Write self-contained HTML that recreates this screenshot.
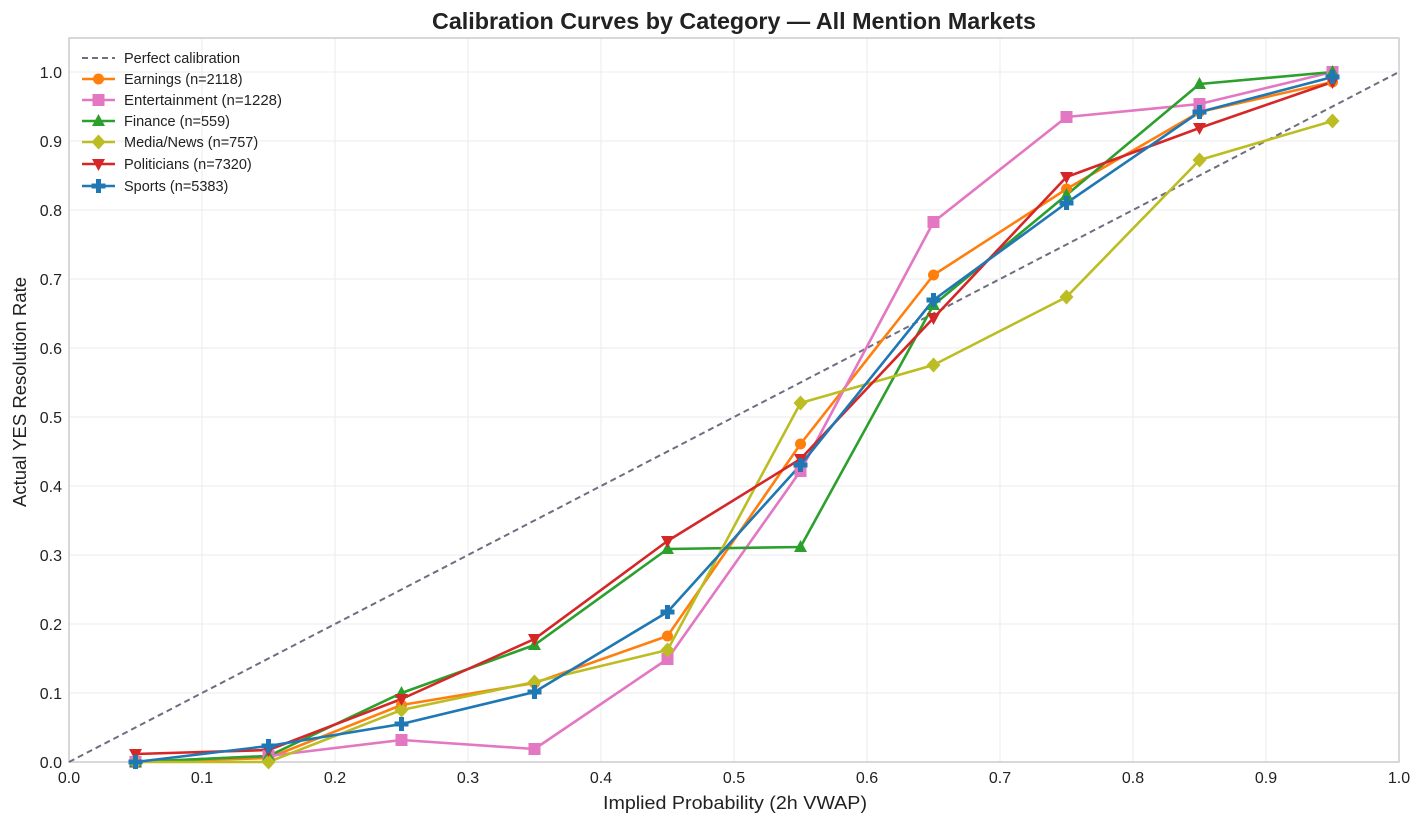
<!DOCTYPE html>
<html><head><meta charset="utf-8"><style>body{margin:0;background:#fff}svg{display:block;font-family:"Liberation Sans",sans-serif}</style></head><body>
<svg width="1424" height="824" viewBox="0 0 1424 824" xmlns="http://www.w3.org/2000/svg">
<defs>
<g id="mo"><circle r="5.5" fill="#ff7f0e"/></g>
<g id="ms"><rect x="-6" y="-6" width="12" height="12" fill="#e377c2"/></g>
<g id="mt"><path d="M0,-7 L6.5,5 L-6.5,5Z" fill="#2ca02c"/></g>
<g id="md"><path d="M0,-7.5 L7,0 L0,7.5 L-7,0Z" fill="#bcbd22"/></g>
<g id="mv"><path d="M0,7 L6.5,-5 L-6.5,-5Z" fill="#d62728"/></g>
<g id="mp"><path d="M-2.5,-7H2.5V-2.5H7V2.5H2.5V7H-2.5V2.5H-7V-2.5H-2.5Z" fill="#1f77b4"/></g>
</defs>
<g stroke="#ebebeb" stroke-width="1">
<line x1="202" y1="38" x2="202" y2="762"/><line x1="335" y1="38" x2="335" y2="762"/><line x1="468" y1="38" x2="468" y2="762"/><line x1="601" y1="38" x2="601" y2="762"/><line x1="734" y1="38" x2="734" y2="762"/><line x1="867" y1="38" x2="867" y2="762"/><line x1="1000" y1="38" x2="1000" y2="762"/><line x1="1133" y1="38" x2="1133" y2="762"/><line x1="1266" y1="38" x2="1266" y2="762"/>
<line x1="69" y1="693" x2="1399" y2="693"/><line x1="69" y1="624" x2="1399" y2="624"/><line x1="69" y1="555" x2="1399" y2="555"/><line x1="69" y1="486" x2="1399" y2="486"/><line x1="69" y1="417" x2="1399" y2="417"/><line x1="69" y1="348" x2="1399" y2="348"/><line x1="69" y1="279" x2="1399" y2="279"/><line x1="69" y1="210" x2="1399" y2="210"/><line x1="69" y1="141" x2="1399" y2="141"/><line x1="69" y1="72" x2="1399" y2="72"/>
</g>
<rect x="69" y="38" width="1330" height="724" fill="none" stroke="#cccccc" stroke-width="1.5"/>
<line x1="69" y1="762" x2="1399" y2="72" stroke="#6e6e80" stroke-width="2" stroke-dasharray="6,4"/>
<g fill="none" stroke-width="2.6" stroke-linejoin="round">
<polyline stroke="#ff7f0e" points="135.5,762 268.5,758 401.5,705 534.5,683 667.5,636 800.5,444 933.5,275 1066.5,189 1199.5,112 1332.5,82"/>
<polyline stroke="#e377c2" points="135.5,762 268.5,756 401.5,740 534.5,749 667.5,659 800.5,471 933.5,222 1066.5,117 1199.5,104 1332.5,72"/>
<polyline stroke="#2ca02c" points="135.5,762 268.5,756 401.5,693 534.5,645 667.5,549 800.5,547 933.5,305 1066.5,195 1199.5,84 1332.5,72"/>
<polyline stroke="#bcbd22" points="135.5,762 268.5,762 401.5,710 534.5,682 667.5,650 800.5,403 933.5,365 1066.5,297 1199.5,160 1332.5,121"/>
<polyline stroke="#d62728" points="135.5,754 268.5,750 401.5,699 534.5,639 667.5,541 800.5,459 933.5,318 1066.5,177 1199.5,128 1332.5,82"/>
<polyline stroke="#1f77b4" points="135.5,762 268.5,746 401.5,724 534.5,692 667.5,612 800.5,465 933.5,300 1066.5,203 1199.5,112 1332.5,77"/>
</g>
<g>
<use href="#mo" x="135.5" y="762"/><use href="#mo" x="268.5" y="758"/><use href="#mo" x="401.5" y="705"/><use href="#mo" x="534.5" y="683"/><use href="#mo" x="667.5" y="636"/><use href="#mo" x="800.5" y="444"/><use href="#mo" x="933.5" y="275"/><use href="#mo" x="1066.5" y="189"/><use href="#mo" x="1199.5" y="112"/><use href="#mo" x="1332.5" y="82"/>
<use href="#ms" x="135.5" y="762"/><use href="#ms" x="268.5" y="756"/><use href="#ms" x="401.5" y="740"/><use href="#ms" x="534.5" y="749"/><use href="#ms" x="667.5" y="659"/><use href="#ms" x="800.5" y="471"/><use href="#ms" x="933.5" y="222"/><use href="#ms" x="1066.5" y="117"/><use href="#ms" x="1199.5" y="104"/><use href="#ms" x="1332.5" y="72"/>
<use href="#mt" x="135.5" y="762"/><use href="#mt" x="268.5" y="756"/><use href="#mt" x="401.5" y="693"/><use href="#mt" x="534.5" y="645"/><use href="#mt" x="667.5" y="549"/><use href="#mt" x="800.5" y="547"/><use href="#mt" x="933.5" y="305"/><use href="#mt" x="1066.5" y="195"/><use href="#mt" x="1199.5" y="84"/><use href="#mt" x="1332.5" y="72"/>
<use href="#md" x="135.5" y="762"/><use href="#md" x="268.5" y="762"/><use href="#md" x="401.5" y="710"/><use href="#md" x="534.5" y="682"/><use href="#md" x="667.5" y="650"/><use href="#md" x="800.5" y="403"/><use href="#md" x="933.5" y="365"/><use href="#md" x="1066.5" y="297"/><use href="#md" x="1199.5" y="160"/><use href="#md" x="1332.5" y="121"/>
<use href="#mv" x="135.5" y="754"/><use href="#mv" x="268.5" y="750"/><use href="#mv" x="401.5" y="699"/><use href="#mv" x="534.5" y="639"/><use href="#mv" x="667.5" y="541"/><use href="#mv" x="800.5" y="459"/><use href="#mv" x="933.5" y="318"/><use href="#mv" x="1066.5" y="177"/><use href="#mv" x="1199.5" y="128"/><use href="#mv" x="1332.5" y="82"/>
<use href="#mp" x="135.5" y="762"/><use href="#mp" x="268.5" y="746"/><use href="#mp" x="401.5" y="724"/><use href="#mp" x="534.5" y="692"/><use href="#mp" x="667.5" y="612"/><use href="#mp" x="800.5" y="465"/><use href="#mp" x="933.5" y="300"/><use href="#mp" x="1066.5" y="203"/><use href="#mp" x="1199.5" y="112"/><use href="#mp" x="1332.5" y="77"/>
</g>
<g font-size="14.5" fill="#222">
<line x1="82" y1="58" x2="115" y2="58" stroke="#6e6e80" stroke-width="2" stroke-dasharray="6,4"/><text x="124" y="63">Perfect calibration</text>
<line x1="82" y1="79" x2="115" y2="79" stroke="#ff7f0e" stroke-width="2.6"/><use href="#mo" x="98.5" y="79"/><text x="124" y="84">Earnings (n=2118)</text>
<line x1="82" y1="100" x2="115" y2="100" stroke="#e377c2" stroke-width="2.6"/><use href="#ms" x="98.5" y="100"/><text x="124" y="105" textLength="158" lengthAdjust="spacingAndGlyphs">Entertainment (n=1228)</text>
<line x1="82" y1="121" x2="115" y2="121" stroke="#2ca02c" stroke-width="2.6"/><use href="#mt" x="98.5" y="121"/><text x="124" y="126">Finance (n=559)</text>
<line x1="82" y1="142" x2="115" y2="142" stroke="#bcbd22" stroke-width="2.6"/><use href="#md" x="98.5" y="142"/><text x="124" y="147">Media/News (n=757)</text>
<line x1="82" y1="164" x2="115" y2="164" stroke="#d62728" stroke-width="2.6"/><use href="#mv" x="98.5" y="164"/><text x="124" y="169">Politicians (n=7320)</text>
<line x1="82" y1="186" x2="115" y2="186" stroke="#1f77b4" stroke-width="2.6"/><use href="#mp" x="98.5" y="186"/><text x="124" y="191">Sports (n=5383)</text>
</g>
<g font-size="16" fill="#222" text-anchor="middle">
<text x="69" y="783">0.0</text><text x="202" y="783">0.1</text><text x="335" y="783">0.2</text><text x="468" y="783">0.3</text><text x="601" y="783">0.4</text><text x="734" y="783">0.5</text><text x="867" y="783">0.6</text><text x="1000" y="783">0.7</text><text x="1133" y="783">0.8</text><text x="1266" y="783">0.9</text><text x="1399" y="783">1.0</text>
</g>
<g font-size="16" fill="#222" text-anchor="end">
<text x="62" y="768">0.0</text><text x="62" y="699">0.1</text><text x="62" y="630">0.2</text><text x="62" y="561">0.3</text><text x="62" y="492">0.4</text><text x="62" y="423">0.5</text><text x="62" y="354">0.6</text><text x="62" y="285">0.7</text><text x="62" y="216">0.8</text><text x="62" y="147">0.9</text><text x="62" y="78">1.0</text>
</g>
<text x="603" y="809" font-size="18" fill="#222" textLength="264" lengthAdjust="spacingAndGlyphs">Implied Probability (2h VWAP)</text>
<text transform="translate(26,507) rotate(-90)" font-size="18" fill="#222" textLength="230" lengthAdjust="spacingAndGlyphs">Actual YES Resolution Rate</text>
<text x="432" y="29" font-size="23" font-weight="bold" fill="#222" textLength="604" lengthAdjust="spacingAndGlyphs">Calibration Curves by Category — All Mention Markets</text>
</svg>
</body></html>
